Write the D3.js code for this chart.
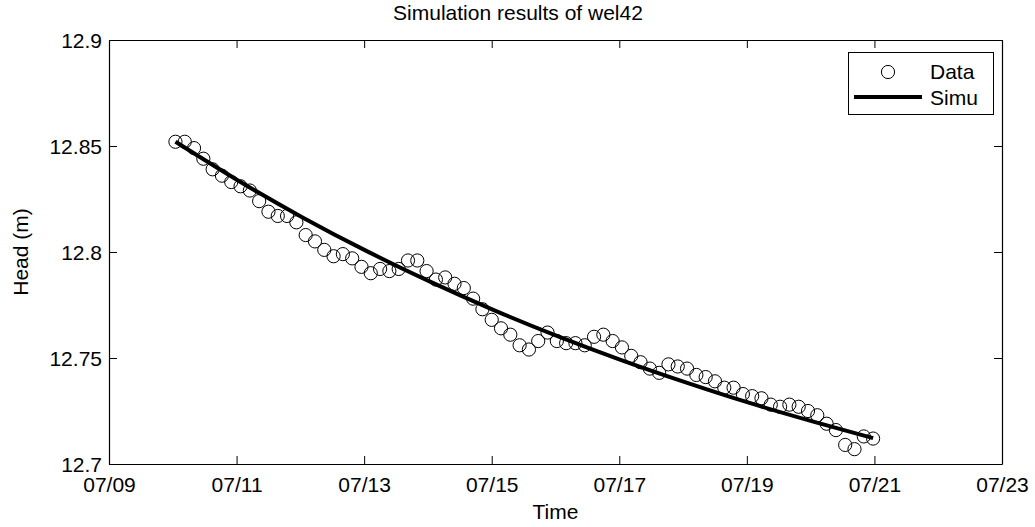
<!DOCTYPE html>
<html><head><meta charset="utf-8">
<script src="https://cdn.jsdelivr.net/npm/d3@7"></script>
<style>body{margin:0;background:#fff}svg{display:block}text{font-family:"Liberation Sans",Arial,sans-serif;fill:#000}</style>
</head><body>
<svg id="c" width="1035" height="527"></svg>
<script>
// Data (hours after 07/10 01:00)
const dataHours = [0,3.5,7,10.5,14,17.5,21,24.5,28,31.5,35,38.5,42,45.5,49,52.5,56,59.5,63,66.5,70,73.5,77,80.5,84,87.5,91,94.5,98,101.5,105,108.5,112,115.5,119,122.5,126,129.5,133,136.5,140,143.5,147,150.5,154,157.5,161,164.5,168,171.5,175,178.5,182,185.5,189,192.5,196,199.5,203,206.5,210,213.5,217,220.5,224,227.5,231,234.5,238,241.5,245,248.5,252,255.5,259,262.5];
const dataHead = [12.852,12.852,12.849,12.844,12.839,12.836,12.833,12.831,12.829,12.824,
12.819,12.817,12.817,12.814,12.808,12.805,12.801,12.798,12.799,12.797,
12.793,12.790,12.792,12.791,12.792,12.796,12.796,12.791,12.787,12.788,
12.785,12.783,12.778,12.773,12.768,12.764,12.761,12.756,12.754,12.758,
12.762,12.758,12.757,12.757,12.756,12.760,12.761,12.758,12.755,12.751,
12.748,12.745,12.743,12.747,12.746,12.745,12.742,12.741,12.739,12.736,
12.736,12.733,12.732,12.731,12.728,12.727,12.728,12.727,12.725,12.723,
12.719,12.716,12.709,12.707,12.713,12.712];
const simuHours = [0,24,48,72,96,120,144,168,192,216,240,262.5];
const simuHead = [12.852,12.8334,12.8162,12.8004,12.7859,12.7725,12.7602,12.7489,12.7385,12.7288,12.7200,12.7122];
const xTickDates = ["2013-07-09","2013-07-11","2013-07-13","2013-07-15","2013-07-17","2013-07-19","2013-07-21","2013-07-23"];
const yTicks = [12.7,12.75,12.8,12.85,12.9];
const startTime = new Date(2013,6,10,1,0);

const L=109,R=1002,T=40,B=464;
const svg = d3.select("#c");
const parse = d3.timeParse("%Y-%m-%d");
const x = d3.scaleTime().domain([parse(xTickDates[0]), parse(xTickDates[xTickDates.length-1])]).range([L,R]);
const y = d3.scaleLinear().domain([12.7,12.9]).range([B,T]);
const tAt = h => new Date(startTime.getTime()+h*3600e3);
const fs = 21;

// axes
const xt = xTickDates.map(parse);
const fmt = d3.timeFormat("%m/%d");
const gxb = svg.append("g").attr("transform",`translate(0,${B})`)
  .call(d3.axisBottom(x).tickValues(xt).tickFormat(fmt).tickSizeInner(-8).tickSizeOuter(0).tickPadding(4));
const gxt = svg.append("g").attr("transform",`translate(0,${T})`)
  .call(d3.axisTop(x).tickValues(xt).tickFormat("").tickSizeInner(-8).tickSizeOuter(0));
const gyl = svg.append("g").attr("transform",`translate(${L},0)`)
  .call(d3.axisLeft(y).tickValues(yTicks).tickFormat(d=>String(+d.toFixed(2))).tickSizeInner(-8).tickSizeOuter(0).tickPadding(7));
const gyr = svg.append("g").attr("transform",`translate(${R},0)`)
  .call(d3.axisRight(y).tickValues(yTicks).tickFormat("").tickSizeInner(-8).tickSizeOuter(0));
[gxb,gxt,gyl,gyr].forEach(g=>{
  g.selectAll("path").attr("stroke","#000").attr("stroke-width",1.2);
  g.selectAll("line").attr("stroke","#000").attr("stroke-width",1);
  g.selectAll("text").attr("font-size",fs).attr("font-family","Liberation Sans, Arial, sans-serif").attr("fill","#000");
});
gxb.selectAll("text").attr("y",28).attr("dy",0);
gyl.selectAll("text").attr("dy","0.36em");

// data circles
svg.append("g").selectAll("circle").data(dataHours).join("circle")
  .attr("cx",(h)=>x(tAt(h))).attr("cy",(h,i)=>y(dataHead[i])).attr("r",6.6)
  .attr("fill","none").attr("stroke","#000").attr("stroke-width",1);

// simu line
const line = d3.line().x(d=>x(tAt(d[0]))).y(d=>y(d[1])).curve(d3.curveMonotoneX);
svg.append("path").datum(simuHours.map((h,i)=>[h,simuHead[i]]))
  .attr("d",line).attr("fill","none").attr("stroke","#000").attr("stroke-width",4);

// titles
svg.append("text").attr("x",518).attr("y",20).attr("text-anchor","middle").attr("font-size",fs).text("Simulation results of wel42");
svg.append("text").attr("x",(L+R)/2).attr("y",519).attr("text-anchor","middle").attr("font-size",fs).text("Time");
svg.append("text").attr("transform",`translate(28,${(T+B)/2}) rotate(-90)`).attr("text-anchor","middle").attr("font-size",fs).text("Head (m)");

// legend
const lg = svg.append("g");
lg.append("rect").attr("x",848.5).attr("y",52.5).attr("width",145).attr("height",62).attr("fill","#fff").attr("stroke","#000").attr("stroke-width",1);
lg.append("circle").attr("cx",888).attr("cy",72).attr("r",6.6).attr("fill","none").attr("stroke","#000");
lg.append("line").attr("x1",854).attr("x2",922).attr("y1",97).attr("y2",97).attr("stroke","#000").attr("stroke-width",4);
lg.append("text").attr("x",930).attr("y",79).attr("font-size",fs).text("Data");
lg.append("text").attr("x",930).attr("y",105).attr("font-size",fs).text("Simu");
</script>
</body></html>
